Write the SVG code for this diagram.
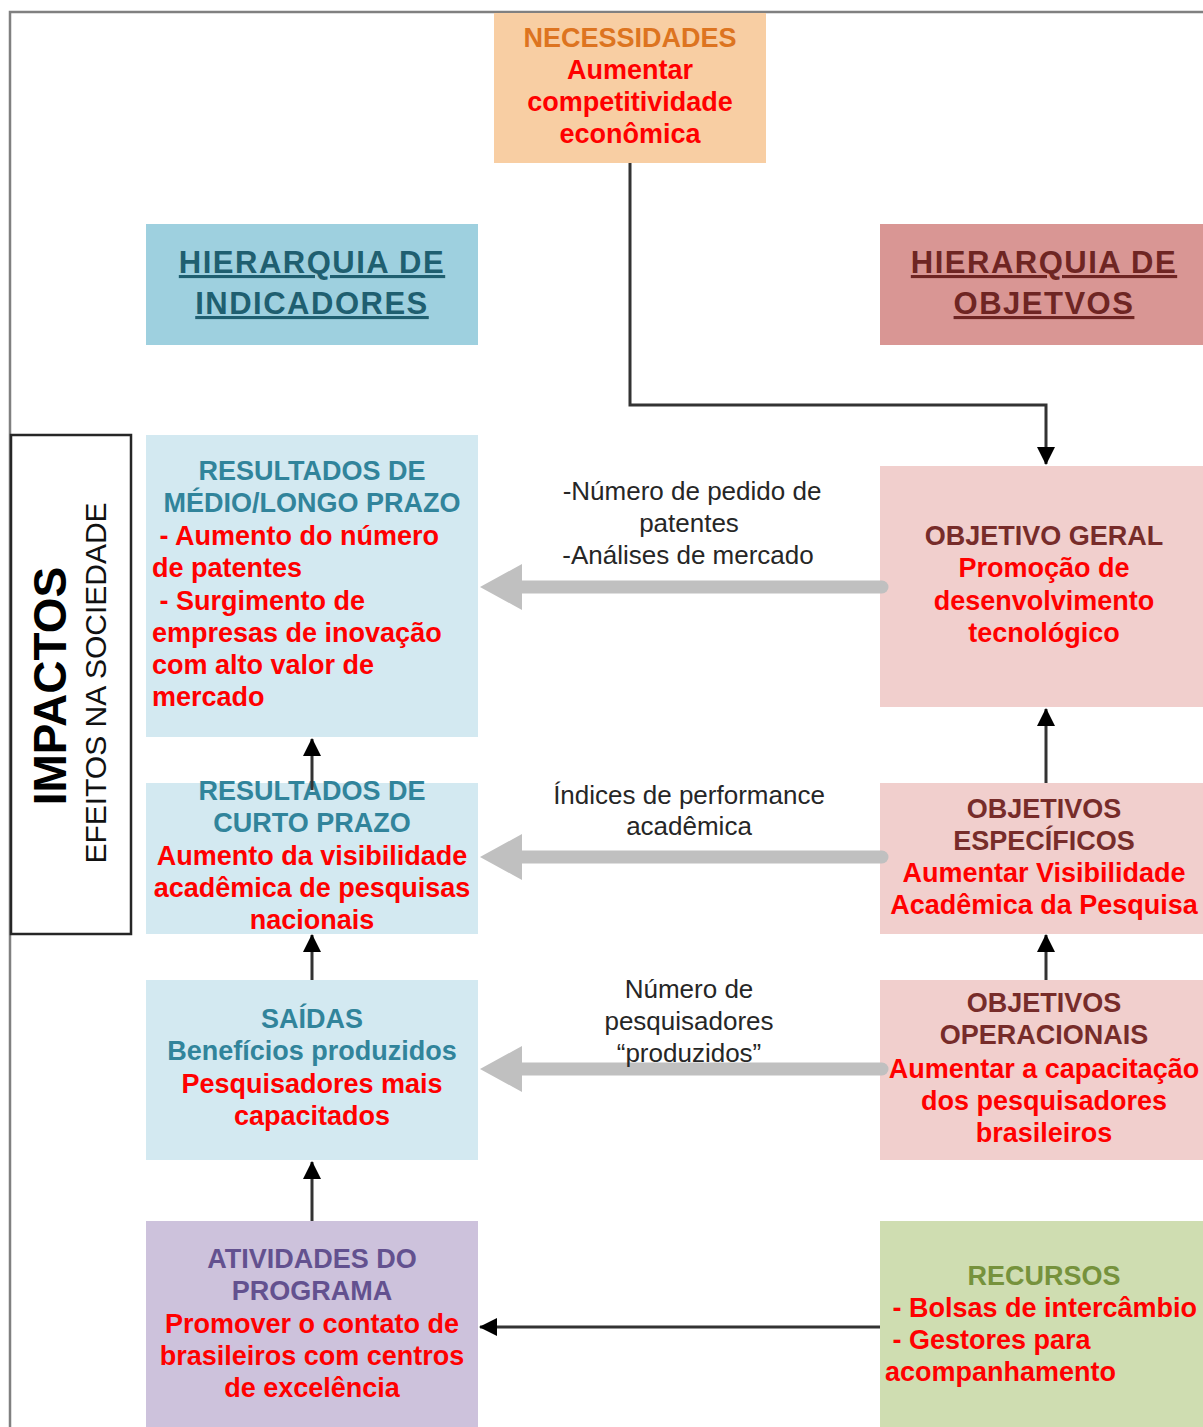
<svg xmlns="http://www.w3.org/2000/svg" width="1203" height="1427" viewBox="0 0 1203 1427">
  <defs>
    <marker id="tipBig" markerWidth="18" markerHeight="18" refX="17" refY="9" orient="auto" markerUnits="userSpaceOnUse" viewBox="0 0 18 18">
      <path d="M0,0 L18,9 L0,18 Z" fill="#000"/>
    </marker>
  </defs>
  <style>
    text { font-family: "Liberation Sans", Arial, sans-serif; }
    .b { font-weight: bold; font-size: 27px; }
    .c { text-anchor: middle; }
    .red { fill: #ff0000; }
    .teal { fill: #31849b; }
    .maroon { fill: #772c2a; }
    .purple { fill: #63518f; }
    .green { fill: #76923c; }
    .orange { fill: #dd7420; }
    .hdr { font-weight: bold; font-size: 31px; letter-spacing: 1.5px; text-anchor: middle; text-decoration: underline; }
    .lbl { font-size: 26px; fill: #262626; text-anchor: middle; }
    .wire { fill: none; stroke: #333; stroke-width: 3; }
    .fat { fill: none; stroke: #c0c0c0; stroke-width: 13; stroke-linecap: round; }
  </style>

  <rect width="1203" height="1427" fill="#fff"/>
  <!-- page frame -->
  <path d="M10,1427 L10,12 L1203,12" fill="none" stroke="#808080" stroke-width="2.5"/>

  <!-- side band -->
  <g id="impactos">
    <rect x="11" y="435" width="120" height="499" fill="#fff" stroke="#262626" stroke-width="2.5"/>
    <text transform="translate(66,686) rotate(-90)" text-anchor="middle" font-weight="bold" font-size="46" fill="#000">IMPACTOS</text>
    <text transform="translate(106,683) rotate(-90)" text-anchor="middle" font-size="30" fill="#111">EFEITOS NA SOCIEDADE</text>
  </g>

  <g id="necessidades">
    <rect x="494" y="13" width="272" height="150" fill="#f8cea3"/>
    <text class="b c orange" x="630" y="47">NECESSIDADES</text>
    <text class="b c red" x="630" y="79">Aumentar</text>
    <text class="b c red" x="630" y="111">competitividade</text>
    <text class="b c red" x="630" y="143">econômica</text>
  </g>

  <g id="hier-indicadores">
    <rect x="146" y="224" width="332" height="121" fill="#9ed0df"/>
    <text class="hdr" x="312" y="273" fill="#1f5f70">HIERARQUIA DE</text>
    <text class="hdr" x="312" y="314" fill="#1f5f70">INDICADORES</text>
  </g>

  <g id="hier-objetivos">
    <rect x="880" y="224" width="330" height="121" fill="#d99694"/>
    <text class="hdr" x="1044" y="273" fill="#6e2523">HIERARQUIA DE</text>
    <text class="hdr" x="1044" y="314" fill="#6e2523">OBJETVOS</text>
  </g>

  <g id="resultados-medio">
    <rect x="146" y="435" width="332" height="302" fill="#d3e9f1"/>
    <text class="b c teal" x="312" y="480">RESULTADOS DE</text>
    <text class="b c teal" x="312" y="512">MÉDIO/LONGO PRAZO</text>
    <text class="b red" x="152" y="545" xml:space="preserve"> - Aumento do número</text>
    <text class="b red" x="152" y="577">de patentes</text>
    <text class="b red" x="152" y="610" xml:space="preserve"> - Surgimento de</text>
    <text class="b red" x="152" y="642">empresas de inovação</text>
    <text class="b red" x="152" y="674">com alto valor de</text>
    <text class="b red" x="152" y="706">mercado</text>
  </g>

  <g id="resultados-curto">
    <rect x="146" y="783" width="332" height="151" fill="#d3e9f1"/>
    <text class="b c teal" x="312" y="800">RESULTADOS DE</text>
    <text class="b c teal" x="312" y="832">CURTO PRAZO</text>
    <text class="b c red" x="312" y="865">Aumento da visibilidade</text>
    <text class="b c red" x="312" y="897">acadêmica de pesquisas</text>
    <text class="b c red" x="312" y="929">nacionais</text>
  </g>

  <g id="saidas">
    <rect x="146" y="980" width="332" height="180" fill="#d3e9f1"/>
    <text class="b c teal" x="312" y="1028">SAÍDAS</text>
    <text class="b c teal" x="312" y="1060">Benefícios produzidos</text>
    <text class="b c red" x="312" y="1093">Pesquisadores mais</text>
    <text class="b c red" x="312" y="1125">capacitados</text>
  </g>

  <g id="atividades">
    <rect x="146" y="1221" width="332" height="210" fill="#cdc2dc"/>
    <text class="b c purple" x="312" y="1268">ATIVIDADES DO</text>
    <text class="b c purple" x="312" y="1300">PROGRAMA</text>
    <text class="b c red" x="312" y="1333">Promover o contato de</text>
    <text class="b c red" x="312" y="1365">brasileiros com centros</text>
    <text class="b c red" x="312" y="1397">de excelência</text>
  </g>

  <g id="objetivo-geral">
    <rect x="880" y="466" width="330" height="241" fill="#f1cfcd"/>
    <text class="b c maroon" x="1044" y="545">OBJETIVO GERAL</text>
    <text class="b c red" x="1044" y="577">Promoção de</text>
    <text class="b c red" x="1044" y="610">desenvolvimento</text>
    <text class="b c red" x="1044" y="642">tecnológico</text>
  </g>

  <g id="objetivos-especificos">
    <rect x="880" y="783" width="330" height="151" fill="#f1cfcd"/>
    <text class="b c maroon" x="1044" y="818">OBJETIVOS</text>
    <text class="b c maroon" x="1044" y="850">ESPECÍFICOS</text>
    <text class="b c red" x="1044" y="882">Aumentar Visibilidade</text>
    <text class="b c red" x="1044" y="914">Acadêmica da Pesquisa</text>
  </g>

  <g id="objetivos-operacionais">
    <rect x="880" y="980" width="330" height="180" fill="#f1cfcd"/>
    <text class="b c maroon" x="1044" y="1012">OBJETIVOS</text>
    <text class="b c maroon" x="1044" y="1044">OPERACIONAIS</text>
    <text class="b c red" x="1044" y="1078">Aumentar a capacitação</text>
    <text class="b c red" x="1044" y="1110">dos pesquisadores</text>
    <text class="b c red" x="1044" y="1142">brasileiros</text>
  </g>

  <g id="recursos">
    <rect x="880" y="1221" width="330" height="210" fill="#cfddb1"/>
    <text class="b c green" x="1044" y="1285">RECURSOS</text>
    <text class="b red" x="885" y="1317" xml:space="preserve"> - Bolsas de intercâmbio</text>
    <text class="b red" x="885" y="1349" xml:space="preserve"> - Gestores para</text>
    <text class="b red" x="885" y="1381">acompanhamento</text>
  </g>

  <g id="connectors">
    <!-- needs feed the general objective -->
    <path class="wire" d="M630,163 L630,405 L1046,405 L1046,464" marker-end="url(#tipBig)"/>
    <!-- objectives hierarchy -->
    <path class="wire" d="M1046,783 L1046,709" marker-end="url(#tipBig)"/>
    <path class="wire" d="M1046,980 L1046,935" marker-end="url(#tipBig)"/>
    <!-- indicators hierarchy -->
    <path class="wire" d="M312,790 L312,739" marker-end="url(#tipBig)"/>
    <path class="wire" d="M312,980 L312,935" marker-end="url(#tipBig)"/>
    <path class="wire" d="M312,1221 L312,1162" marker-end="url(#tipBig)"/>
    <!-- resources to activities -->
    <path class="wire" d="M880,1327 L480,1327" marker-end="url(#tipBig)"/>

    <!-- wide grey indicator arrows -->
    <path class="fat" d="M882,587 L515,587"/>
    <path d="M480,587 L522,564 L522,610 Z" fill="#c0c0c0"/>
    <path class="fat" d="M882,857 L515,857"/>
    <path d="M480,857 L522,834 L522,880 Z" fill="#c0c0c0"/>
    <path class="fat" d="M882,1069 L515,1069"/>
    <path d="M480,1069 L522,1046 L522,1092 Z" fill="#c0c0c0"/>

    <text class="lbl" x="692" y="500">-Número de pedido de</text>
    <text class="lbl" x="689" y="532">patentes</text>
    <text class="lbl" x="688" y="564">-Análises de mercado</text>
    <text class="lbl" x="689" y="804">Índices de performance</text>
    <text class="lbl" x="689" y="835">acadêmica</text>
    <text class="lbl" x="689" y="998">Número de</text>
    <text class="lbl" x="689" y="1030">pesquisadores</text>
    <text class="lbl" x="689" y="1062">“produzidos”</text>
  </g>
</svg>
